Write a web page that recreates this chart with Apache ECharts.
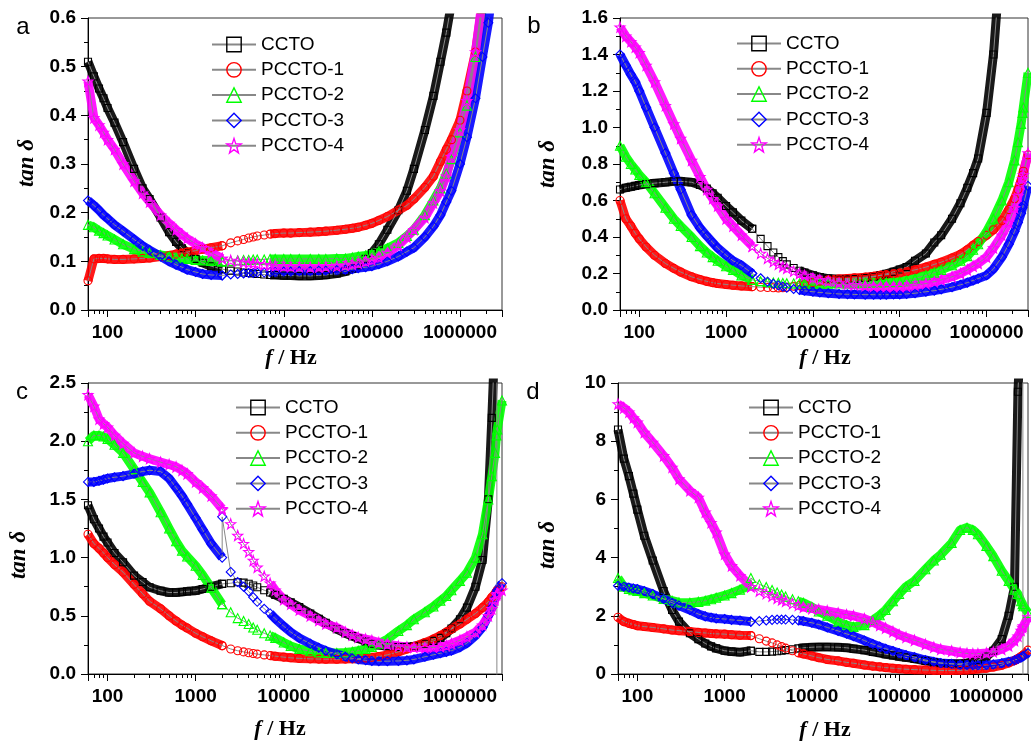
<!DOCTYPE html>
<html lang="en">
<head>
<meta charset="UTF-8">
<title>tan delta - frequency</title>
<style>
  html, body { margin: 0; padding: 0; background: #fff; }
  #chart { width: 1031px; height: 744px; }
</style>
</head>
<body>
<div id="chart"></div>
<script src="https://cdn.jsdelivr.net/npm/echarts@6/dist/echarts.min.js"></script>
<script>
// frequency points (Hz); 2000 appears twice: end of the first sweep, start of the second
const freq = [60, 70, 80, 90, 100, 120, 150, 200, 250, 300,
  400, 500, 600, 700, 800, 1000, 1200, 1500, 2000, 2000,
  2500, 3000, 3500, 4000, 4500, 5000, 6000, 7000, 8000, 10000,
  12000, 15000, 20000, 25000, 30000, 40000, 50000, 60000, 70000, 85000,
  1e5, 1.2e5, 1.5e5, 2e5, 2.5e5, 3e5, 4e5, 5e5, 6e5, 7e5,
  8e5, 1e6, 1.2e6, 1.5e6, 1.8e6, 2.1e6, 2.3e6, 2.5e6, 2.6e6, 2.65e6,
  3e6];
const secondSweep = 19;

const names = ['CCTO', 'PCCTO-1', 'PCCTO-2', 'PCCTO-3', 'PCCTO-4'];

// panel a
const aCCTO = [0.51, 0.48, 0.455, 0.435, 0.415, 0.385, 0.345, 0.29, 0.25, 0.228,
  0.19, 0.16, 0.14, 0.127, 0.118, 0.105, 0.097, 0.09, 0.084, 0.084,
  0.081, 0.079, 0.077, 0.076, 0.075, 0.074, 0.073, 0.072, 0.072, 0.071,
  0.071, 0.07, 0.07, 0.071, 0.072, 0.075, 0.079, 0.085, 0.092, 0.105,
  0.117, 0.135, 0.165, 0.205, 0.245, 0.29, 0.37, 0.44, 0.51, 0.57,
  0.63, null, null, null, null, null, null, null, null, null,
  null];
const aP1 = [0.06, 0.105, 0.106, 0.106, 0.105, 0.104, 0.104, 0.105, 0.106, 0.107,
  0.11, 0.112, 0.115, 0.117, 0.119, 0.122, 0.125, 0.128, 0.132, 0.132,
  0.138, 0.142, 0.145, 0.148, 0.15, 0.152, 0.154, 0.156, 0.157, 0.158,
  0.158, 0.159, 0.16, 0.161, 0.162, 0.164, 0.166, 0.168, 0.17, 0.174,
  0.178, 0.184, 0.192, 0.205, 0.215, 0.228, 0.252, 0.275, 0.305, 0.33,
  0.35, 0.39, 0.45, 0.53, 0.63, null, null, null, null, null,
  null];
const aP2 = [0.175, 0.17, 0.163, 0.158, 0.153, 0.145, 0.135, 0.125, 0.12, 0.117,
  0.113, 0.11, 0.108, 0.106, 0.105, 0.103, 0.102, 0.101, 0.1, 0.1,
  0.101, 0.102, 0.103, 0.103, 0.104, 0.104, 0.104, 0.105, 0.105, 0.105,
  0.105, 0.105, 0.105, 0.105, 0.105, 0.106, 0.106, 0.108, 0.11, 0.112,
  0.115, 0.12, 0.127, 0.138, 0.152, 0.165, 0.195, 0.225, 0.25, 0.28,
  0.31, 0.365, 0.42, 0.52, 0.62, null, null, null, null, null,
  null];
const aP3 = [0.225, 0.215, 0.205, 0.195, 0.188, 0.175, 0.162, 0.145, 0.132, 0.123,
  0.11, 0.1, 0.093, 0.088, 0.083, 0.078, 0.074, 0.072, 0.071, 0.071,
  0.073, 0.074, 0.075, 0.076, 0.076, 0.077, 0.077, 0.078, 0.078, 0.079,
  0.079, 0.08, 0.08, 0.081, 0.081, 0.082, 0.083, 0.084, 0.086, 0.088,
  0.09, 0.094, 0.1, 0.11, 0.12, 0.128, 0.15, 0.172, 0.195, 0.222,
  0.245, 0.3, 0.355, 0.435, 0.52, 0.59, 0.65, null, null, null,
  null];
const aP4 = [0.47, 0.395, 0.38, 0.365, 0.35, 0.33, 0.3, 0.265, 0.24, 0.222,
  0.195, 0.178, 0.165, 0.155, 0.147, 0.136, 0.128, 0.118, 0.106, 0.106,
  0.102, 0.1, 0.098, 0.097, 0.096, 0.095, 0.093, 0.092, 0.091, 0.09,
  0.089, 0.089, 0.088, 0.088, 0.089, 0.09, 0.092, 0.094, 0.096, 0.1,
  0.103, 0.108, 0.117, 0.133, 0.15, 0.165, 0.19, 0.22, 0.245, 0.275,
  0.315, 0.37, 0.43, 0.53, 0.64, null, null, null, null, null,
  null];

// panel b
const bCCTO = [0.66, 0.67, 0.675, 0.68, 0.685, 0.69, 0.695, 0.7, 0.705, 0.705,
  0.7, 0.685, 0.665, 0.64, 0.615, 0.57, 0.535, 0.49, 0.445, 0.445,
  0.39, 0.35, 0.315, 0.29, 0.268, 0.25, 0.23, 0.215, 0.205, 0.19,
  0.18, 0.172, 0.168, 0.168, 0.17, 0.175, 0.182, 0.19, 0.198, 0.21,
  0.222, 0.235, 0.27, 0.31, 0.37, 0.41, 0.5, 0.585, 0.67, 0.75,
  0.83, 1.08, 1.4, 2.0, null, null, null, null, null, null,
  null];
const bP1 = [0.6, 0.5, 0.46, 0.42, 0.39, 0.345, 0.3, 0.255, 0.228, 0.208,
  0.182, 0.167, 0.157, 0.15, 0.145, 0.14, 0.136, 0.132, 0.128, 0.128,
  0.125, 0.123, 0.122, 0.121, 0.122, 0.125, 0.13, 0.135, 0.14, 0.15,
  0.158, 0.165, 0.17, 0.173, 0.176, 0.18, 0.185, 0.19, 0.194, 0.198,
  0.202, 0.21, 0.22, 0.235, 0.25, 0.262, 0.285, 0.305, 0.33, 0.355,
  0.375, 0.41, 0.44, 0.49, 0.55, 0.61, 0.66, 0.71, 0.74, 0.76,
  0.85];
const bP2 = [0.9, 0.84, 0.8, 0.77, 0.74, 0.7, 0.64, 0.56, 0.5, 0.46,
  0.4, 0.35, 0.315, 0.29, 0.27, 0.24, 0.22, 0.19, 0.165, 0.165,
  0.158, 0.154, 0.151, 0.149, 0.148, 0.147, 0.146, 0.145, 0.145, 0.144,
  0.144, 0.144, 0.145, 0.146, 0.147, 0.149, 0.15, 0.151, 0.152, 0.153,
  0.155, 0.162, 0.172, 0.19, 0.205, 0.22, 0.245, 0.27, 0.295, 0.33,
  0.36, 0.43, 0.5, 0.6, 0.7, 0.82, 0.92, 1.02, 1.08, 1.11,
  1.3];
const bP3 = [1.4, 1.34, 1.29, 1.25, 1.2, 1.11, 1.0, 0.86, 0.75, 0.66,
  0.52, 0.45, 0.405, 0.37, 0.34, 0.3, 0.27, 0.245, 0.2, 0.2,
  0.174, 0.155, 0.143, 0.135, 0.128, 0.122, 0.115, 0.11, 0.105, 0.1,
  0.096, 0.092, 0.088, 0.086, 0.085, 0.084, 0.084, 0.084, 0.084, 0.085,
  0.085, 0.088, 0.092, 0.1, 0.106, 0.113, 0.125, 0.138, 0.15, 0.162,
  0.172, 0.19, 0.225, 0.29, 0.36, 0.43, 0.48, 0.53, 0.56, 0.575,
  0.68];
const bP4 = [1.55, 1.5, 1.47, 1.44, 1.41, 1.34, 1.25, 1.12, 1.02, 0.94,
  0.82, 0.73, 0.66, 0.61, 0.57, 0.5, 0.46, 0.41, 0.35, 0.35,
  0.31, 0.283, 0.265, 0.25, 0.238, 0.228, 0.213, 0.2, 0.19, 0.175,
  0.166, 0.158, 0.148, 0.142, 0.138, 0.133, 0.13, 0.129, 0.128, 0.128,
  0.128, 0.13, 0.135, 0.145, 0.155, 0.165, 0.182, 0.2, 0.22, 0.24,
  0.255, 0.29, 0.34, 0.41, 0.48, 0.56, 0.625, 0.69, 0.72, 0.74,
  0.86];

// panel c
const cCCTO = [1.45, 1.33, 1.25, 1.18, 1.13, 1.04, 0.96, 0.845, 0.79, 0.745,
  0.715, 0.7, 0.7, 0.705, 0.71, 0.716, 0.73, 0.75, 0.774, 0.774,
  0.78, 0.788, 0.785, 0.775, 0.76, 0.745, 0.72, 0.7, 0.68, 0.645,
  0.615, 0.575, 0.52, 0.475, 0.44, 0.385, 0.35, 0.325, 0.305, 0.28,
  0.26, 0.248, 0.238, 0.232, 0.232, 0.237, 0.26, 0.285, 0.31, 0.35,
  0.39, 0.47, 0.57, 0.75, 0.98, 1.5, 2.2, 2.9, 50, -50,
  null];
const cP1 = [1.2, 1.12, 1.08, 1.04, 1.0, 0.94, 0.875, 0.77, 0.69, 0.625,
  0.56, 0.5, 0.455, 0.42, 0.395, 0.35, 0.32, 0.285, 0.245, 0.242,
  0.215, 0.2, 0.19, 0.182, 0.176, 0.171, 0.164, 0.158, 0.153, 0.145,
  0.139, 0.134, 0.13, 0.128, 0.127, 0.127, 0.128, 0.13, 0.133, 0.138,
  0.143, 0.15, 0.165, 0.19, 0.215, 0.235, 0.27, 0.3, 0.33, 0.36,
  0.385, 0.43, 0.47, 0.52, 0.57, 0.62, 0.66, 0.69, 0.71, 0.72,
  0.75];
const cP2 = [2.0, 2.05, 2.05, 2.04, 2.02, 1.97, 1.9, 1.76, 1.65, 1.56,
  1.39, 1.25, 1.14, 1.06, 1.01, 0.93, 0.85, 0.74, 0.6, 0.6,
  0.53, 0.48, 0.455, 0.43, 0.4, 0.38, 0.35, 0.33, 0.31, 0.27,
  0.24, 0.215, 0.195, 0.185, 0.18, 0.18, 0.185, 0.192, 0.2, 0.215,
  0.232, 0.26, 0.3, 0.37, 0.42, 0.47, 0.53, 0.58, 0.63, 0.67,
  0.72, 0.8, 0.87, 1.0, 1.2, 1.5, 1.7, 1.9, 2.05, 2.1,
  2.35];
const cP3 = [1.65, 1.65, 1.66, 1.67, 1.68, 1.69, 1.7, 1.72, 1.74, 1.75,
  1.74, 1.68, 1.6, 1.53, 1.46, 1.34, 1.24, 1.12, 1.0, 1.35,
  0.877, 0.79, 0.75, 0.71, 0.66, 0.62, 0.56, 0.52, 0.475, 0.41,
  0.36, 0.31, 0.26, 0.225, 0.2, 0.17, 0.15, 0.135, 0.125, 0.118,
  0.112, 0.11, 0.11, 0.112, 0.117, 0.125, 0.148, 0.165, 0.178, 0.19,
  0.2, 0.23, 0.265, 0.33, 0.4, 0.5, 0.57, 0.65, 0.7, 0.72,
  0.78];
const cP4 = [2.4, 2.3, 2.19, 2.15, 2.12, 2.05, 1.98, 1.9, 1.87, 1.85,
  1.82, 1.8, 1.78, 1.75, 1.72, 1.65, 1.6, 1.53, 1.42, 1.41,
  1.29, 1.19, 1.12, 1.05, 0.975, 0.917, 0.84, 0.78, 0.72, 0.64,
  0.6, 0.55, 0.5, 0.46, 0.43, 0.4, 0.36, 0.335, 0.315, 0.3,
  0.288, 0.27, 0.255, 0.24, 0.232, 0.228, 0.225, 0.228, 0.235, 0.245,
  0.26, 0.29, 0.32, 0.36, 0.42, 0.5, 0.56, 0.64, 0.68, 0.69,
  0.72];

// panel d
const dCCTO = [8.4, 7.4, 6.8, 6.2, 5.65, 4.75, 3.9, 2.85, 2.2, 1.8,
  1.4, 1.2, 1.05, 0.95, 0.88, 0.8, 0.77, 0.75, 0.8, 0.8,
  0.76, 0.76, 0.77, 0.78, 0.8, 0.82, 0.85, 0.88, 0.9, 0.92,
  0.93, 0.93, 0.92, 0.9, 0.87, 0.82, 0.76, 0.72, 0.68, 0.64,
  0.6, 0.57, 0.52, 0.45, 0.4, 0.37, 0.35, 0.35, 0.38, 0.42,
  0.47, 0.6, 0.8, 1.2, 2.0, 3.0, 9.7, 12, 50, -50,
  null];
const dP1 = [1.95, 1.8, 1.74, 1.7, 1.66, 1.63, 1.6, 1.55, 1.51, 1.49,
  1.46, 1.43, 1.41, 1.39, 1.38, 1.37, 1.35, 1.33, 1.32, 1.32,
  1.21, 1.13, 1.07, 1.0, 0.94, 0.89, 0.8, 0.73, 0.69, 0.62,
  0.56, 0.5, 0.45, 0.4, 0.37, 0.31, 0.27, 0.245, 0.22, 0.2,
  0.18, 0.165, 0.15, 0.135, 0.125, 0.12, 0.12, 0.125, 0.135, 0.15,
  0.17, 0.2, 0.24, 0.3, 0.38, 0.46, 0.53, 0.6, 0.63, 0.65,
  0.82];
const dP2 = [3.3, 3.0, 2.92, 2.88, 2.85, 2.78, 2.7, 2.58, 2.52, 2.46,
  2.45, 2.48, 2.52, 2.57, 2.62, 2.7, 2.78, 2.9, 3.05, 3.3,
  3.08, 2.99, 2.89, 2.8, 2.73, 2.66, 2.57, 2.5, 2.45, 2.3,
  2.15, 2.0, 1.8, 1.68, 1.62, 1.68, 1.85, 2.02, 2.2, 2.5,
  2.75, 3.0, 3.2, 3.6, 3.9, 4.1, 4.5, 4.95, 5.03, 4.95,
  4.8, 4.4, 4.05, 3.55, 3.2, 2.9, 2.75, 2.5, 2.4, 2.33,
  2.1];
const dP3 = [3.03, 3.0, 2.97, 2.94, 2.92, 2.85, 2.75, 2.58, 2.45, 2.35,
  2.2, 2.06, 1.98, 1.94, 1.91, 1.89, 1.86, 1.84, 1.8, 1.8,
  1.82, 1.84, 1.86, 1.87, 1.87, 1.87, 1.86, 1.84, 1.82, 1.76,
  1.7, 1.6, 1.48, 1.38, 1.3, 1.15, 1.03, 0.94, 0.87, 0.79,
  0.72, 0.65, 0.58, 0.48, 0.42, 0.38, 0.35, 0.32, 0.31, 0.3,
  0.3, 0.31, 0.33, 0.37, 0.42, 0.47, 0.52, 0.57, 0.6, 0.62,
  0.72];
const dP4 = [9.28, 9.15, 9.0, 8.8, 8.65, 8.3, 7.96, 7.5, 7.1, 6.7,
  6.3, 6.07, 5.56, 5.2, 4.87, 4.12, 3.72, 3.38, 3.0, 3.0,
  2.85, 2.76, 2.68, 2.6, 2.55, 2.5, 2.42, 2.36, 2.3, 2.25,
  2.22, 2.17, 2.1, 2.04, 2.0, 1.9, 1.78, 1.67, 1.58, 1.46,
  1.35, 1.26, 1.16, 1.02, 0.92, 0.85, 0.79, 0.74, 0.71, 0.7,
  0.7, 0.72, 0.76, 0.85, 0.97, 1.15, 1.3, 1.5, 1.6, 1.65,
  1.96];

const colors = ['#000000', '#ff0000', '#00ff00', '#0000ff', '#ff00ff'];
const star = 'path://M0,-10L2.35,-3.24L9.51,-3.09L3.8,1.24L5.88,8.09L0,4L-5.88,8.09L-3.8,1.24L-9.51,-3.09L-2.35,-3.24Z';
const symbols = ['rect', 'circle', 'triangle', 'diamond', star];
const symbolSizes = [7, 8, 9, 9, 10];

const panels = [
  { series: [aCCTO, aP1, aP2, aP3, aP4], max: 0.6, step: 0.1, digits: 1,
    left: 88, top: 18, height: 292, legend: [206, 30], letter: ['a', 23, 27],
    xName: [291, 358], yName: [27, 163] },
  { series: [bCCTO, bP1, bP2, bP3, bP4], max: 1.6, step: 0.2, digits: 1,
    left: 620, top: 18, height: 292, legend: [731, 29], letter: ['b', 534, 26],
    xName: [825, 358], yName: [548, 164] },
  { series: [cCCTO, cP1, cP2, cP3, cP4], max: 2.5, step: 0.5, digits: 1,
    left: 88, top: 383, height: 291, legend: [230, 393], letter: ['c', 22, 392],
    xName: [280, 729], yName: [19, 555] },
  { series: [dCCTO, dP1, dP2, dP3, dP4], max: 10, step: 2, digits: 0,
    left: 618, top: 383, height: 291, legend: [743, 393], letter: ['d', 533, 392],
    xName: [825, 730], yName: [548, 545] }
];

const tickFont = { fontSize: 19, fontWeight: 'bold', color: '#000', fontFamily: 'Liberation Sans, Arial' };
const isDecade = v => Math.abs(Math.log10(v) - Math.round(Math.log10(v))) < 1e-6;

const grid = [], xAxis = [], yAxis = [], legend = [], markerSeries = [], bandSeries = [], graphic = [];

panels.forEach((p, pi) => {
  grid.push({ left: p.left, top: p.top, width: 414, height: p.height,
    show: true, borderColor: '#333', borderWidth: 1, backgroundColor: 'transparent' });
  xAxis.push({
    type: 'log', logBase: 10, gridIndex: pi, min: 60, max: 3e6,
    axisLine: { lineStyle: { color: '#000', width: 1 } },
    axisTick: { length: 7, lineStyle: { color: '#000' } },
    minorTick: { show: true, splitNumber: 9, length: 4, lineStyle: { color: '#000' } },
    splitLine: { show: false },
    axisLabel: Object.assign({ margin: 13, formatter: v => isDecade(v) ? String(Math.round(v)) : '' }, tickFont)
  });
  yAxis.push({
    type: 'value', gridIndex: pi, min: 0, max: p.max, interval: p.step,
    axisLine: { show: true, lineStyle: { color: '#000', width: 1 } },
    axisTick: { show: true, length: 7, lineStyle: { color: '#000' } },
    minorTick: { show: true, splitNumber: 2, length: 4, lineStyle: { color: '#000' } },
    splitLine: { show: false },
    axisLabel: Object.assign({ margin: 12, formatter: v => v.toFixed(p.digits) }, tickFont)
  });
  legend.push({
    data: names, orient: 'vertical', left: p.legend[0], top: p.legend[1],
    itemWidth: 44, itemHeight: 18, itemGap: 6.3, selectedMode: false,
    itemStyle: { borderWidth: 1.4 },
    textStyle: { fontSize: 19, color: '#000', fontFamily: 'Liberation Sans, Arial' }
  });

  p.series.forEach((vals, k) => {
    markerSeries.push({
      type: 'line', name: names[k], xAxisIndex: pi, yAxisIndex: pi,
      data: freq.map((f, i) => [f, vals[i]]),
      symbol: symbols[k], symbolSize: symbolSizes[k], showSymbol: true, showAllSymbol: true,
      lineStyle: { color: '#888', width: 1 },
      itemStyle: { color: 'rgba(255,255,255,0)', borderColor: colors[k], borderWidth: 1.1 },
      z: 3, silent: true, clip: true, emphasis: { disabled: true }
    });
    // thick band where the measured points sit densely
    const band = freq.map((f, i) => {
      const v = vals[i];
      const sparse = i >= secondSweep && f < 7000;
      const off = v === null || v < 0 || v > p.max * 1.5;
      return [f, sparse || off ? null : v];
    });
    bandSeries.push({
      type: 'line', name: names[k], xAxisIndex: pi, yAxisIndex: pi, data: band,
      symbol: 'none', showSymbol: false,
      lineStyle: { color: colors[k], width: 9, opacity: 0.9, join: 'round' },
      z: 2, silent: true, clip: true, emphasis: { disabled: true }
    });
  });

  graphic.push({
    type: 'text', x: p.letter[1], y: p.letter[2], silent: true,
    style: { text: p.letter[0], font: '24px "Liberation Sans", Arial', fill: '#000',
      align: 'center', verticalAlign: 'middle', textAlign: 'center', textVerticalAlign: 'middle' }
  });
  graphic.push({
    type: 'text', x: p.xName[0], y: p.xName[1], silent: true,
    style: {
      text: '{i|f} / Hz', font: 'bold 22px "Liberation Serif", "Times New Roman"', fill: '#000',
      align: 'center', verticalAlign: 'middle', textAlign: 'center', textVerticalAlign: 'middle',
      rich: { i: { fontStyle: 'italic', fontWeight: 'bold', fontSize: 22,
        fontFamily: '"Liberation Serif", "Times New Roman"', fill: '#000' } }
    }
  });
  graphic.push({
    type: 'text', x: p.yName[0], y: p.yName[1], rotation: Math.PI / 2, silent: true,
    style: { text: 'tan δ', font: 'italic bold 23px "Liberation Serif", "Times New Roman"', fill: '#000',
      align: 'center', verticalAlign: 'middle', textAlign: 'center', textVerticalAlign: 'middle' }
  });
});

const chart = echarts.init(document.getElementById('chart'));
chart.setOption({
  animation: false,
  backgroundColor: '#fff',
  grid: grid,
  xAxis: xAxis,
  yAxis: yAxis,
  legend: legend,
  graphic: graphic,
  series: markerSeries.concat(bandSeries)
});
</script>
</body>
</html>
